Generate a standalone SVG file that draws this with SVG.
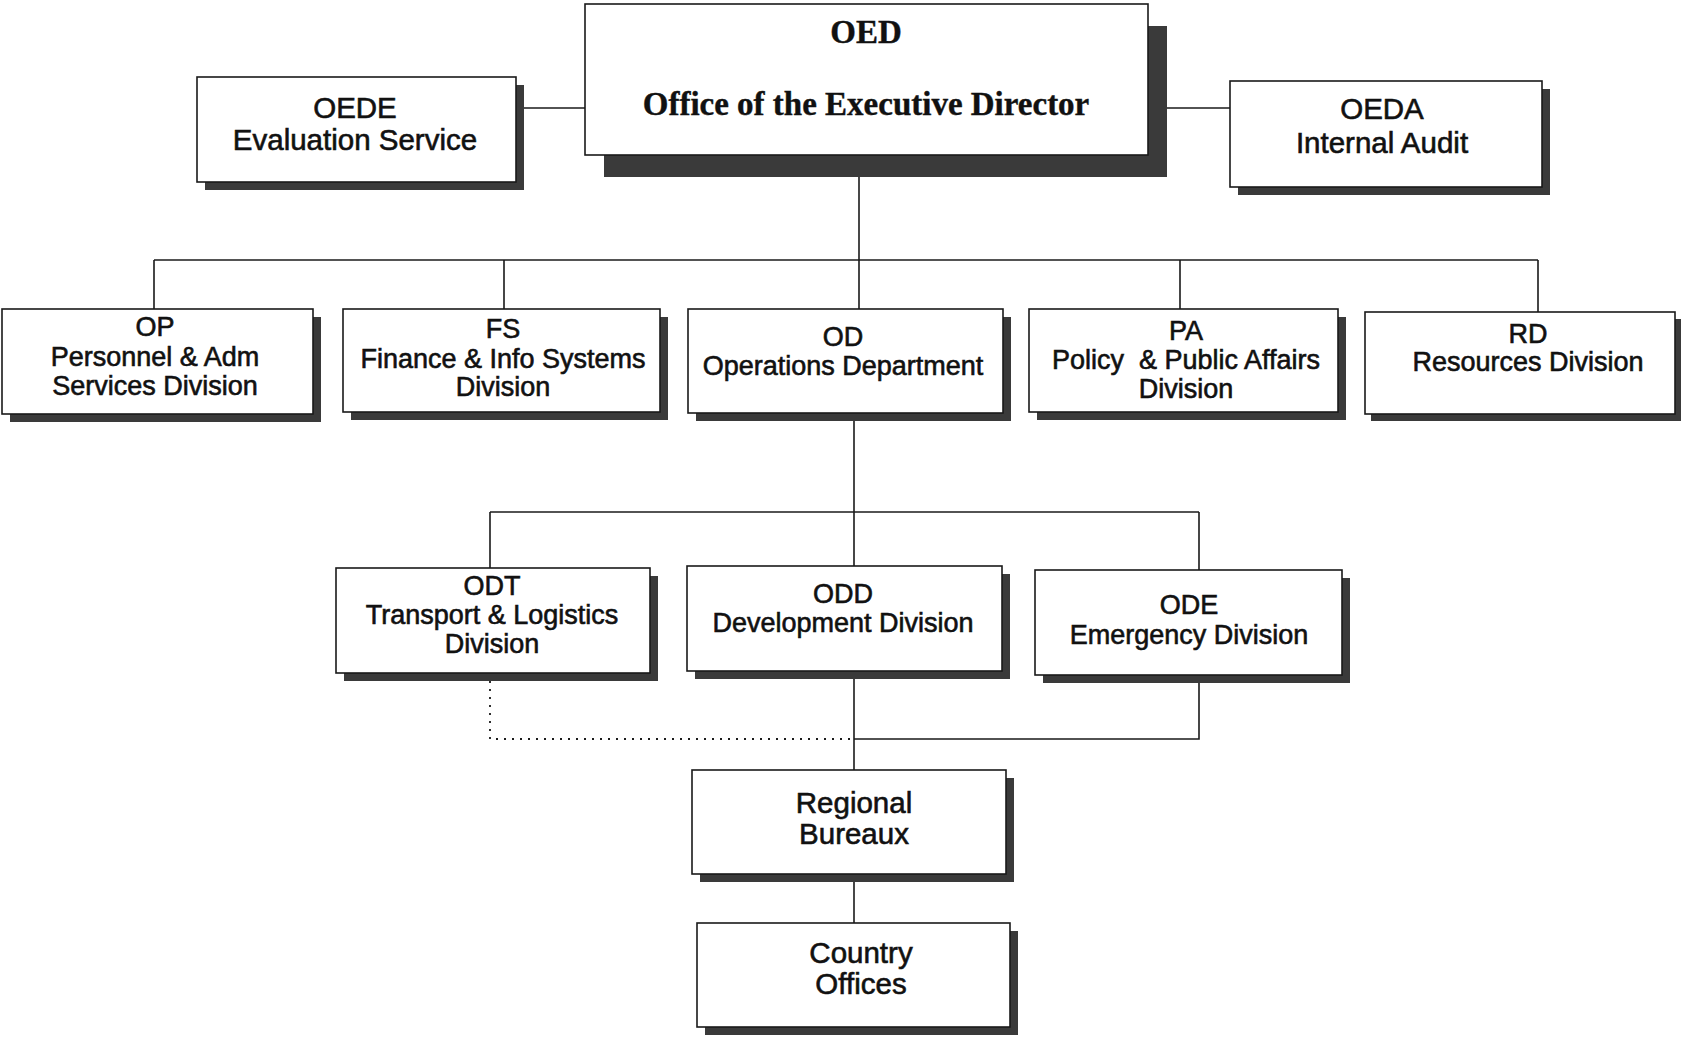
<svg xmlns="http://www.w3.org/2000/svg" width="1681" height="1037" viewBox="0 0 1681 1037">
<style>
.bg{fill:#fff}
.box{fill:#fff;stroke:#1a1a1a;stroke-width:1.6}
.sh{fill:#3a3a3a}
.t{font-family:"Liberation Sans",Arial,Helvetica,sans-serif;font-size:27px;fill:#111;stroke:#111;stroke-width:0.6;text-anchor:middle}
.tl{font-size:29.5px}
.tb{font-family:"Liberation Serif","Times New Roman",serif;font-weight:bold;font-size:33px;fill:#111;text-anchor:middle;stroke:#111;stroke-width:0.4}
.c{fill:none;stroke:#1a1a1a;stroke-width:1.6}
.d{fill:none;stroke:#1a1a1a;stroke-width:1.8;stroke-dasharray:2 6}
</style>
<rect class="bg" x="0" y="0" width="1681" height="1037"/>
<g id="connectors">
<path class="c" d="M524 108H585"/>
<path class="c" d="M1167 108H1230"/>
<path class="c" d="M859 177V260"/>
<path class="c" d="M154 260H1538"/>
<path class="c" d="M154 260V309M504 260V309M859 260V309M1180 260V309M1538 260V312"/>
<path class="c" d="M854 421V512"/>
<path class="c" d="M490 512H1199"/>
<path class="c" d="M490 512V568M854 512V566M1199 512V570"/>
<path class="c" d="M1199 683V739H854"/>
<path class="d" d="M490 681V739H854"/>
<path class="c" d="M854 679V770"/>
<path class="c" d="M854 881V923"/>
</g>
<g id="OED">
<rect class="sh" x="604" y="26" width="563" height="151"/>
<rect class="box" x="585" y="4" width="563" height="151"/>
<text class="tb" x="866" y="43">OED</text>
<text class="tb" x="866" y="115">Office of the Executive Director</text>
</g>
<g id="OEDE">
<rect class="sh" x="205" y="85" width="319" height="105"/>
<rect class="box" x="197" y="77" width="319" height="105"/>
<text class="t tl" x="355" y="118">OEDE</text>
<text class="t tl" x="355" y="150">Evaluation Service</text>
</g>
<g id="OEDA">
<rect class="sh" x="1238" y="89" width="312" height="106"/>
<rect class="box" x="1230" y="81" width="312" height="106"/>
<text class="t tl" x="1382" y="119">OEDA</text>
<text class="t tl" x="1382" y="153">Internal Audit</text>
</g>
<g id="OP">
<rect class="sh" x="10" y="317" width="311" height="105"/>
<rect class="box" x="2" y="309" width="311" height="105"/>
<text class="t" x="155" y="336">OP</text>
<text class="t" x="155" y="366">Personnel &amp; Adm</text>
<text class="t" x="155" y="395">Services Division</text>
</g>
<g id="FS">
<rect class="sh" x="351" y="317" width="317" height="103"/>
<rect class="box" x="343" y="309" width="317" height="103"/>
<text class="t" x="503" y="338">FS</text>
<text class="t" x="503" y="368">Finance &amp; Info Systems</text>
<text class="t" x="503" y="396">Division</text>
</g>
<g id="OD">
<rect class="sh" x="696" y="317" width="315" height="104"/>
<rect class="box" x="688" y="309" width="315" height="104"/>
<text class="t" x="843" y="346">OD</text>
<text class="t" x="843" y="375">Operations Department</text>
</g>
<g id="PA">
<rect class="sh" x="1037" y="317" width="309" height="103"/>
<rect class="box" x="1029" y="309" width="309" height="103"/>
<text class="t" x="1186" y="340">PA</text>
<text class="t" x="1186" y="369" xml:space="preserve">Policy  &amp; Public Affairs</text>
<text class="t" x="1186" y="398">Division</text>
</g>
<g id="RD">
<rect class="sh" x="1371" y="319" width="310" height="102"/>
<rect class="box" x="1365" y="312" width="310" height="102"/>
<text class="t" x="1528" y="343">RD</text>
<text class="t" x="1528" y="371">Resources Division</text>
</g>
<g id="ODT">
<rect class="sh" x="344" y="576" width="314" height="105"/>
<rect class="box" x="336" y="568" width="314" height="105"/>
<text class="t" x="492" y="595">ODT</text>
<text class="t" x="492" y="624">Transport &amp; Logistics</text>
<text class="t" x="492" y="653">Division</text>
</g>
<g id="ODD">
<rect class="sh" x="695" y="574" width="315" height="105"/>
<rect class="box" x="687" y="566" width="315" height="105"/>
<text class="t" x="843" y="603">ODD</text>
<text class="t" x="843" y="632">Development Division</text>
</g>
<g id="ODE">
<rect class="sh" x="1043" y="578" width="307" height="105"/>
<rect class="box" x="1035" y="570" width="307" height="105"/>
<text class="t" x="1189" y="614">ODE</text>
<text class="t" x="1189" y="644">Emergency Division</text>
</g>
<g id="RB">
<rect class="sh" x="700" y="778" width="314" height="104"/>
<rect class="box" x="692" y="770" width="314" height="104"/>
<text class="t tl" x="854" y="813">Regional</text>
<text class="t tl" x="854" y="844">Bureaux</text>
</g>
<g id="CO">
<rect class="sh" x="705" y="931" width="313" height="104"/>
<rect class="box" x="697" y="923" width="313" height="104"/>
<text class="t tl" x="861" y="963">Country</text>
<text class="t tl" x="861" y="994">Offices</text>
</g>
</svg>
